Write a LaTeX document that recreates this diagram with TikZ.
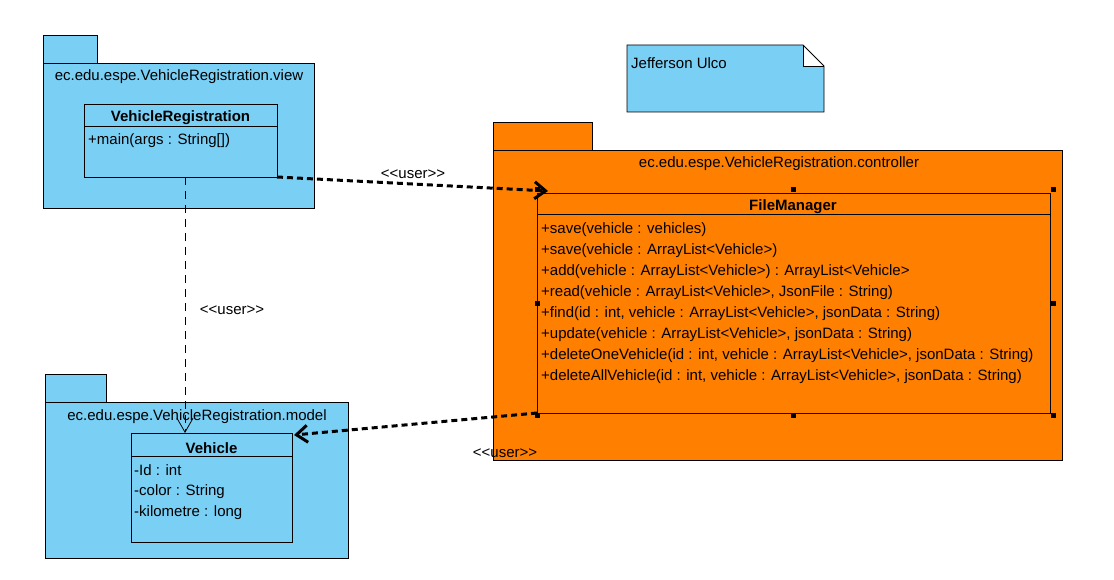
\documentclass[tikz,border=0pt]{standalone}
\usepackage{fontspec}
\setmainfont{Liberation Sans}[Ligatures=TeXOff]
\usetikzlibrary{arrows.meta}
\definecolor{pkgblue}{RGB}{122,207,245}
\definecolor{pkgorange}{RGB}{255,128,0}
\begin{document}
\begin{tikzpicture}[x=1pt,y=-1pt,
  box/.style={draw=black,line width=0.9pt,anchor=north west,inner sep=0pt,outer sep=0pt},
  pkg/.style={box},
  cls/.style={box},
  txt/.style={font=\fontsize{15}{17}\selectfont,inner sep=0pt,yshift=-2pt},
  ttl/.style={font=\fontsize{15}{17}\selectfont\bfseries,inner sep=0pt,yshift=-2pt},
  op/.style={txt,anchor=west},
  handle/.style={fill=black,minimum size=5pt,inner sep=0pt,draw=none},
  thickdep/.style={line width=3pt,dash pattern=on 6pt off 4pt,-{Straight Barb[length=11pt,width=17pt,line width=3pt]}},
  thindep/.style={line width=0.8pt,dash pattern=on 8pt off 6pt,-{Straight Barb[length=14pt,width=16pt,line width=0.8pt]}}
]
\useasboundingbox (0,0) rectangle (1114,580);
\fill[white] (0,0) rectangle (1114,580);

% ---------- view package ----------
\node[pkg,fill=pkgblue,minimum width=54pt,minimum height=28pt] (vtab) at (43,35) {};
\node[pkg,fill=pkgblue,minimum width=271pt,minimum height=145pt] (vpkg) at (43,63) {};
\node[txt] (vlbl) at (179,75) {ec.edu.espe.VehicleRegistration.view};
\node[cls,fill=pkgblue,minimum width=193pt,minimum height=73pt] (vr) at (84,104) {};
\draw[line width=0.9pt] (84,126) -- (277,126);
\node[ttl] (vrname) at (180.5,116) {VehicleRegistration};
\node[op] (vrop) at (88,139) {+main(args : String[])};

% ---------- model package ----------
\node[pkg,fill=pkgblue,minimum width=61pt,minimum height=28pt] (mtab) at (45,374) {};
\node[pkg,fill=pkgblue,minimum width=303pt,minimum height=156pt] (mpkg) at (45,402) {};
\node[txt] (mlbl) at (197,415) {ec.edu.espe.VehicleRegistration.model};
\node[cls,fill=pkgblue,minimum width=161pt,minimum height=109pt] (veh) at (131,433) {};
\draw[line width=0.9pt] (131,456) -- (292,456);
\node[ttl] (vehname) at (211.5,446) {Vehicle};
\node[op] (a1) at (134,468) {-Id : int};
\node[op] (a2) at (134,490) {-color : String};
\node[op] (a3) at (134,511) {-kilometre : long};

% ---------- controller package ----------
\node[pkg,fill=pkgorange,minimum width=99pt,minimum height=28pt] (ctab) at (493,122) {};
\node[pkg,fill=pkgorange,minimum width=569pt,minimum height=310pt] (cpkg) at (493,150) {};
\node[txt] (clbl) at (779,162) {ec.edu.espe.VehicleRegistration.controller};
\node[cls,fill=pkgorange,minimum width=513pt,minimum height=220pt] (fm) at (537,193) {};
\draw[line width=0.9pt] (537,214) -- (1050,214);
\node[ttl] (fmname) at (793,205) {FileManager};
\node[op] (o1) at (541,228) {+save(vehicle : vehicles)};
\node[op] (o2) at (541,249) {+save(vehicle : ArrayList<Vehicle>)};
\node[op] (o3) at (541,270) {+add(vehicle : ArrayList<Vehicle>) : ArrayList<Vehicle>};
\node[op] (o4) at (541,291) {+read(vehicle : ArrayList<Vehicle>, JsonFile : String)};
\node[op] (o5) at (541,312) {+find(id : int, vehicle : ArrayList<Vehicle>, jsonData : String)};
\node[op] (o6) at (541,333) {+update(vehicle : ArrayList<Vehicle>, jsonData : String)};
\node[op] (o7) at (541,354) {+deleteOneVehicle(id : int, vehicle : ArrayList<Vehicle>, jsonData : String)};
\node[op] (o8) at (541,375) {+deleteAllVehicle(id : int, vehicle : ArrayList<Vehicle>, jsonData : String)};

% selection handles
\node[handle] (h1) at (537,190) {};
\node[handle] (h2) at (793,190) {};
\node[handle] (h3) at (1053,190) {};
\node[handle] (h4) at (537,303) {};
\node[handle] (h5) at (1053,303) {};
\node[handle] (h6) at (537,415) {};
\node[handle] (h7) at (793,415) {};
\node[handle] (h8) at (1053,415) {};

% ---------- note ----------
\fill[pkgblue] (627,45) -- (803,45) -- (824,66) -- (824,112) -- (627,112) -- cycle;
\fill[white] (803,45) -- (824,66) -- (803,66) -- cycle;
\draw[line width=0.9pt] (627,45) -- (803,45) -- (824,66) -- (824,112) -- (627,112) -- cycle;
\draw[line width=0.9pt] (803,45) -- (803,66) -- (824,66);
\node[txt,anchor=west] (note) at (631,61) {Jefferson Ulco};

% ---------- connectors ----------
\coordinate (t1) at (548,191);
\coordinate (t2) at (294,435);
\draw[thickdep] (vr.south east) -- (t1);
\node[txt] (u1) at (413,172) {<<user>>};
\draw[thickdep] (fm.south west) -- (t2);
\node[txt] (u2) at (505,451) {<<user>>};
\draw[thindep] (vr.south -| 185,0) -- (veh.north -| 185,0);
\node[txt] (u3) at (232,308) {<<user>>};
\end{tikzpicture}
\end{document}
